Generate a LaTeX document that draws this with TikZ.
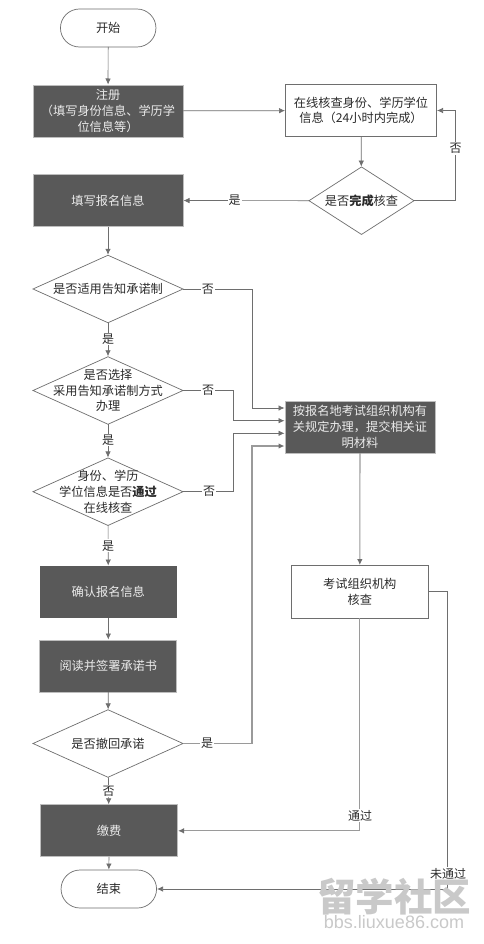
\documentclass[tikz,border=0pt]{standalone}
\usepackage{fontspec}
\setmainfont{Noto Sans CJK SC}
\newfontfamily\wmfont{Liberation Sans}
\usetikzlibrary{shapes.geometric,arrows.meta,calc}
\definecolor{boxdark}{HTML}{595959}
\definecolor{boxedge}{HTML}{BDBDBD}
\definecolor{lineg}{HTML}{6E6E6E}
\definecolor{linel}{HTML}{9A9A9A}
\definecolor{inkc}{HTML}{2B2B2B}
\definecolor{wmc}{HTML}{C9C9C9}
\tikzset{
  x=1pt,y=-1pt,
  base/.style={font=\fontsize{12.2pt}{15.8pt}\selectfont,align=center,text=inkc,inner sep=0pt,outer sep=0pt},
  term/.style={base,draw=lineg,line width=.7pt,rounded corners=19pt,minimum width=95.5pt,minimum height=38pt,fill=white},
  darkbox/.style={base,draw=boxedge,line width=.8pt,fill=boxdark,text=white!92!black,minimum height=52pt},
  lightbox/.style={base,draw=lineg,line width=.7pt,fill=white,minimum height=52.5pt},
  dec/.style={diamond,draw=lineg,line width=.7pt,fill=white,inner sep=0pt,outer sep=0pt,minimum width=#1,minimum height=67.5pt,shape aspect=2},
  dectext/.style={base},
  lab/.style={base,fill=white,inner xsep=1pt,inner ysep=1pt,font=\fontsize{12pt}{14pt}\selectfont},
  conn/.style={draw=lineg,line width=.7pt,-{Latex[length=6pt,width=5.5pt]},shorten >=.5pt},
  connl/.style={draw=linel,line width=1.1pt,-{Latex[length=6pt,width=5.5pt,color=lineg]},shorten >=.5pt},
}
\begin{document}
\begin{tikzpicture}
\useasboundingbox (0,0) rectangle (484,944);
\fill[white] (0,0) rectangle (484,944);
% nodes
\node[term] (start) at (108.2,28) {开始};
\node[darkbox,minimum width=150pt] (reg) at (108,111) {注册\\（填写身份信息、学历学\\位信息等）};
\node[lightbox,minimum width=151pt] (verify) at (361,110.5) {在线核查身份、学历学位\\信息（24小时内完成）};
\node[dec=105pt] (dc) at (361.5,200.7) {};
\node[dectext] (dct) at (dc.center) {是否{\bfseries 完成}核查};
\node[darkbox,minimum width=150pt] (fill) at (108,200.5) {填写报名信息};
\node[dec=150pt] (d1) at (108,289) {};
\node[dectext] (d1t) at (d1.center) {是否适用告知承诺制};
\node[dec=150pt] (d2) at (108,390.5) {};
\node[dectext] (d2t) at (d2.center) {是否选择\\采用告知承诺制方式\\办理};
\node[dec=150pt] (d3) at (108,491.7) {};
\node[dectext] (d3t) at (d3.center) {身份、学历\\学位信息是否{\bfseries 通过}\\在线核查};
\node[darkbox,draw=none,minimum width=137pt] (confirm) at (108.3,592) {确认报名信息};
\node[darkbox,minimum width=137pt] (read) at (108.3,666) {阅读并签署承诺书};
\node[dec=150pt] (d4) at (108,743.5) {};
\node[dectext] (d4t) at (d4.center) {是否撤回承诺};
\node[darkbox,minimum width=137pt] (pay) at (109,830.8) {缴费};
\node[term] (end) at (108.8,889) {结束};
\node[darkbox,minimum width=150pt] (proc) at (360,427) {按报名地考试组织机构有\\关规定办理，提交相关证\\明材料};
\node[lightbox,minimum width=137.5pt] (check) at (359.8,591.8) {考试组织机构\\核查};
% bend points
\coordinate (in1) at ($(proc.west)+(0,-19)$);
\coordinate (in2) at ($(proc.west)+(0,-6.3)$);
\coordinate (in3) at ($(proc.west)+(0,6.3)$);
\coordinate (in4) at ($(proc.west)+(0,19)$);
% connectors
\draw[conn] (start) -- (reg);
\draw[conn] (reg) -- (verify);
\draw[conn] (verify) -- (dc);
\draw[conn] (dc) -- node[lab,pos=.59] (ly0) {是} (fill);
\draw[conn] (dc.east) -- (455.5,200.7) -- node[lab,pos=.58] (ln0) {否} (455.5,110.5) -- (verify.east);
\draw[conn] (fill) -- (d1);
\draw[conn] (d1) -- node[lab,pos=.48] (ly1) {是} (d2);
\draw[conn] (d2) -- node[lab,pos=.47] (ly2) {是} (d3);
\draw[conn] (d3) -- node[lab,pos=.5] (ly3) {是} (confirm);
\draw[conn] (confirm) -- (read);
\draw[conn] (read) -- (d4);
\draw[conn] (d4) -- node[lab,pos=.5] (ly4) {否} (pay);
\draw[conn] (pay) -- (end);
\draw[connl] (proc) -- (check);
\draw[conn] (d1.east) -- node[lab,pos=.36] (ln1) {否} (252,289) -- (252,289 |- in1) -- (in1);
\draw[conn] (d2.east) -- node[lab,pos=.5] (ln2) {否} (233,390.5) -- (233,390.5 |- in2) -- (in2);
\draw[conn] (d3.east) -- node[lab,pos=.52] (ln3) {否} (233,491.7) -- (233,491.7 |- in3) -- (in3);
\draw[connl] (d4.east) -- node[lab,pos=.35,text=inkc] (ly5) {是} (252,743.5) -- (252,743.5 |- in4) -- (in4);
\draw[connl] (check.south) -- (359.8,830.8) -- (pay.east);
\draw[conn] (check.east) -- (447.5,591.8) -- (447.5,889) -- (end.east);
\node[lab] (pass) at (360,815.5) {通过};
\node[lab] (fail) at (448,873.5) {未通过};
% watermark
\node[base,font=\fontsize{38.5pt}{38.5pt}\bfseries\selectfont,text=wmc] (wm1) at (394,896.5) {留学社区};
\node[base,font=\wmfont\fontsize{18pt}{18pt}\selectfont,text=wmc] (wm3) at (394,922.5) {bbs.liuxue86.com};
\end{tikzpicture}
\end{document}
